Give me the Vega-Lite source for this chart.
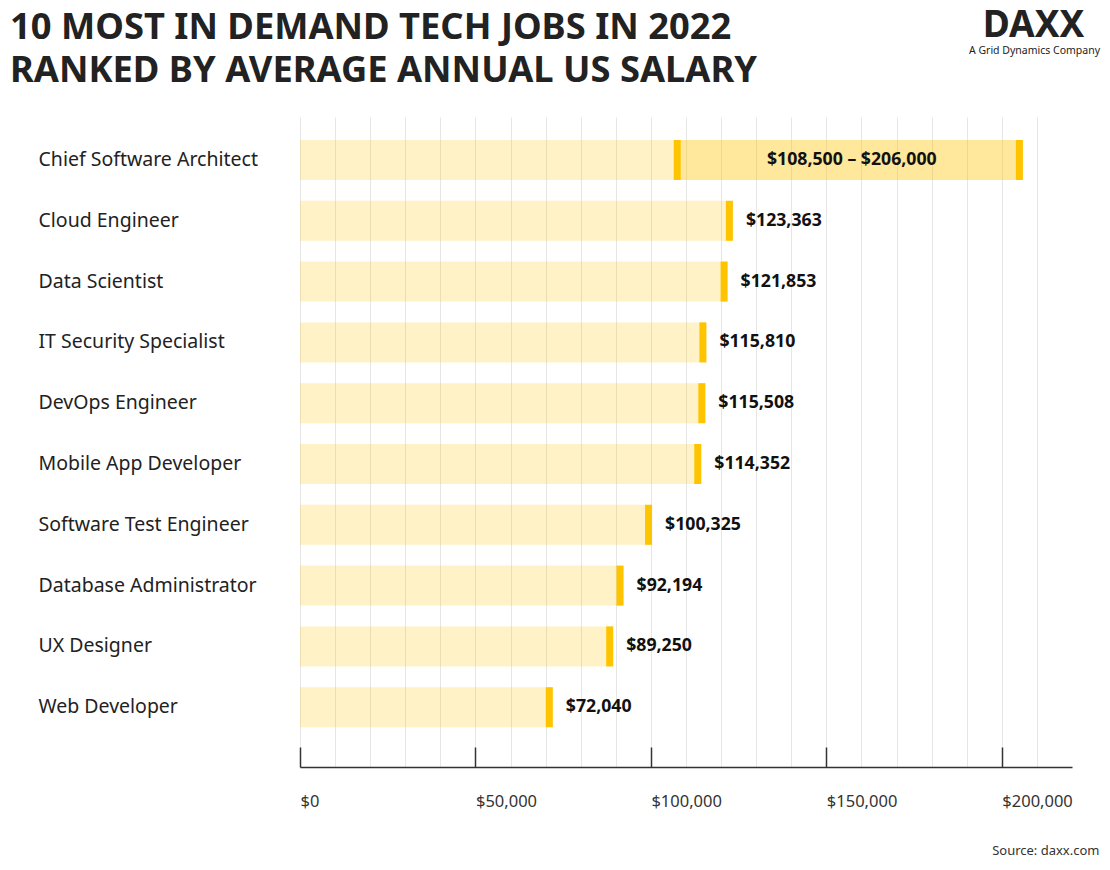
{
  "$schema": "https://vega.github.io/schema/vega-lite/v6.json",
  "width": 772,
  "height": 650,
  "autosize": {"type": "none"},
  "padding": {"left": 300, "top": 117, "right": 38, "bottom": 103},
  "background": "white",
  "title": {
    "text": ["10 MOST IN DEMAND TECH JOBS IN 2022", "RANKED BY AVERAGE ANNUAL US SALARY"],
    "anchor": "start",
    "frame": "group",
    "dx": -290,
    "dy": 83,
    "offset": 0,
    "font": "Noto Sans",
    "fontSize": 36.3,
    "fontWeight": "bold",
    "lineHeight": 43,
    "color": "#222222"
  },
  "data": {
    "values": [
      {"job": "Chief Software Architect", "low": 108500, "high": 206000, "label": "$108,500 – $206,000"},
      {"job": "Cloud Engineer", "low": null, "high": 123363, "label": "$123,363"},
      {"job": "Data Scientist", "low": null, "high": 121853, "label": "$121,853"},
      {"job": "IT Security Specialist", "low": null, "high": 115810, "label": "$115,810"},
      {"job": "DevOps Engineer", "low": null, "high": 115508, "label": "$115,508"},
      {"job": "Mobile App Developer", "low": null, "high": 114352, "label": "$114,352"},
      {"job": "Software Test Engineer", "low": null, "high": 100325, "label": "$100,325"},
      {"job": "Database Administrator", "low": null, "high": 92194, "label": "$92,194"},
      {"job": "UX Designer", "low": null, "high": 89250, "label": "$89,250"},
      {"job": "Web Developer", "low": null, "high": 72040, "label": "$72,040"}
    ]
  },
  "encoding": {
    "y": {
      "field": "job",
      "type": "nominal",
      "sort": null,
      "scale": {"paddingInner": 0.342, "paddingOuter": 0.516, "align": 0.366},
      "axis": {
        "labelAlign": "left",
        "labelPadding": 262,
        "labelFontSize": 19.5,
        "labelFont": "Noto Sans",
        "labelColor": "#222222",
        "labelLimit": 300,
        "ticks": false,
        "domain": false,
        "grid": false,
        "title": "A Grid Dynamics Company",
        "titleAngle": 0,
        "titleX": 734,
        "titleY": -67,
        "titleAlign": "center",
        "titleBaseline": "middle",
        "titleFont": "Noto Sans",
        "titleFontSize": 10.5,
        "titleFontWeight": "normal",
        "titleColor": "#222222"
      }
    }
  },
  "layer": [
    {
      "mark": {"type": "bar", "color": "#FFC400", "opacity": 0.22},
      "encoding": {
        "x": {
          "field": "high",
          "type": "quantitative",
          "scale": {"domain": [0, 220000], "nice": false},
          "axis": {
            "orient": "bottom",
            "values": [0, 10000, 20000, 30000, 40000, 50000, 60000, 70000, 80000, 90000, 100000, 110000, 120000, 130000, 140000, 150000, 160000, 170000, 180000, 190000, 200000, 210000],
            "grid": true,
            "gridColor": "#e6e6e6",
            "gridWidth": 1,
            "labels": false,
            "ticks": false,
            "domain": false,
            "title": null
          }
        }
      }
    },
    {
      "transform": [{"filter": "isValid(datum.low)"}],
      "mark": {"type": "bar", "color": "#FFC400", "opacity": 0.22},
      "encoding": {
        "x": {"field": "low", "type": "quantitative", "axis": null},
        "x2": {"field": "high"}
      }
    },
    {
      "mark": {"type": "tick", "color": "#FFC400", "thickness": 7, "size": 40, "xOffset": -3.5, "opacity": 1},
      "encoding": {
        "x": {
          "field": "high",
          "type": "quantitative",
          "axis": {
            "orient": "bottom",
            "values": [0, 50000, 100000, 150000, 200000],
            "format": "$,d",
            "grid": false,
            "domain": true,
            "domainColor": "#333333",
            "domainWidth": 1.5,
            "ticks": true,
            "tickSize": -20,
            "tickColor": "#333333",
            "tickWidth": 1.5,
            "labelAlign": "left",
            "labelBaseline": "top",
            "labelPadding": 46,
            "labelFont": "Noto Sans",
            "labelFontSize": 16.5,
            "labelColor": "#333333",
            "title": "Source: daxx.com",
            "titleX": 799,
            "titleY": 83,
            "titleAlign": "right",
            "titleBaseline": "middle",
            "titleFont": "Noto Sans",
            "titleFontSize": 13,
            "titleFontWeight": "normal",
            "titleColor": "#333333"
          }
        }
      }
    },
    {
      "transform": [{"filter": "isValid(datum.low)"}],
      "mark": {"type": "tick", "color": "#FFC400", "thickness": 7, "size": 40, "xOffset": -3.5, "opacity": 1},
      "encoding": {
        "x": {"field": "low", "type": "quantitative", "axis": null}
      }
    },
    {
      "transform": [{"filter": "!isValid(datum.low)"}],
      "mark": {"type": "text", "align": "left", "baseline": "middle", "dx": 13, "font": "Noto Sans", "fontSize": 17.7, "fontWeight": "bold", "color": "#111111"},
      "encoding": {
        "x": {
          "field": "high",
          "type": "quantitative",
          "axis": {
            "orient": "top",
            "labels": false,
            "ticks": false,
            "domain": false,
            "grid": false,
            "title": "DAXX",
            "titleX": 733,
            "titleY": -92,
            "titleAlign": "center",
            "titleBaseline": "middle",
            "titleFont": "Noto Sans",
            "titleFontSize": 37,
            "titleFontWeight": "bold",
            "titleColor": "#222222"
          }
        },
        "text": {"field": "label"}
      }
    },
    {
      "transform": [
        {"filter": "isValid(datum.low)"},
        {"fold": ["low", "high"], "as": ["k", "v"]}
      ],
      "mark": {"type": "text", "align": "center", "baseline": "middle", "font": "Noto Sans", "fontSize": 17.7, "fontWeight": "bold", "color": "#111111"},
      "encoding": {
        "x": {"aggregate": "mean", "field": "v", "type": "quantitative", "axis": null},
        "text": {"field": "label"}
      }
    }
  ],
  "resolve": {"axis": {"x": "independent"}},
  "config": {"view": {"stroke": null}, "font": "Noto Sans"}
}
